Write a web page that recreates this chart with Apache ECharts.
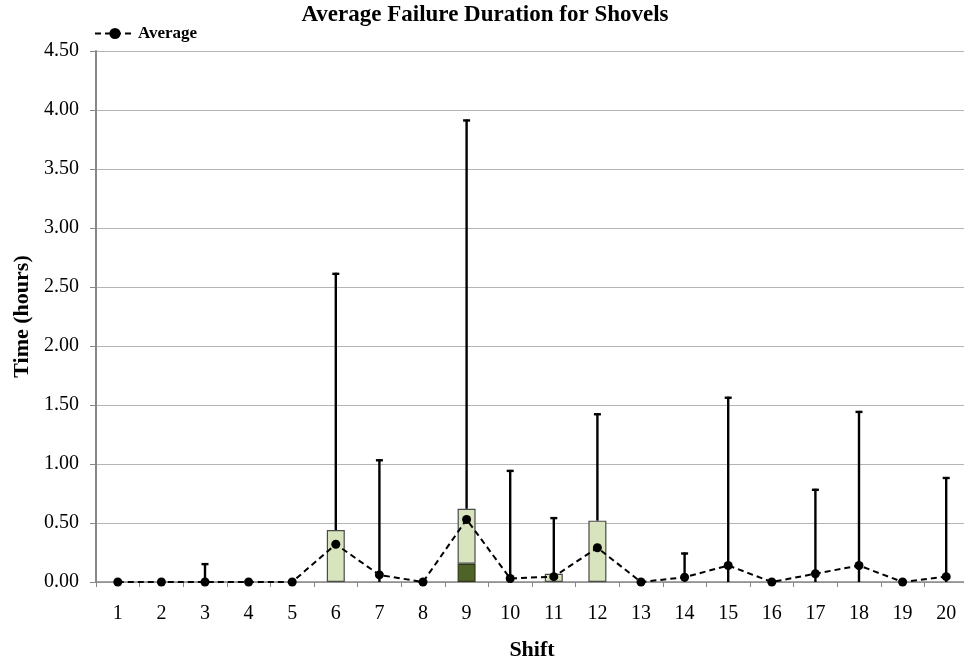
<!DOCTYPE html>
<html>
<head>
<meta charset="utf-8">
<title>Average Failure Duration for Shovels</title>
<script src="https://cdn.jsdelivr.net/npm/echarts@6/dist/echarts.min.js"></script>
<style>
  html, body { margin: 0; padding: 0; background: #ffffff; }
  #chart { width: 964px; height: 661px; }
</style>
</head>
<body>
<div id="chart"></div>
<script>
// Shift numbers along the horizontal axis
const shifts = ['1','2','3','4','5','6','7','8','9','10','11','12','13','14','15','16','17','18','19','20'];

// Failure duration statistics per shift (hours)
const medianValues = [0, 0, 0, 0, 0, 0, 0, 0, 0.155, 0, 0, 0, 0, 0, 0, 0, 0, 0, 0, 0];
const upperQuartile = [0, 0, 0, 0, 0, 0.44, 0, 0, 0.62, 0, 0.07, 0.52, 0, 0, 0, 0, 0, 0, 0, 0];
const maxValues = [0, 0, 0.16, 0, 0, 2.62, 1.04, 0, 3.92, 0.95, 0.55, 1.43, 0, 0.25, 1.57, 0, 0.79, 1.45, 0, 0.89];
const averageValues = [0, 0, 0, 0, 0, 0.32, 0.06, 0, 0.53, 0.03, 0.045, 0.29, 0, 0.04, 0.14, 0, 0.07, 0.14, 0, 0.045];

// Y axis tick settings
const yMin = 0, yMax = 4.5, yStep = 0.5;

const serif = '"Liberation Serif", "Times New Roman", serif';

// Empty boxes are left out so no flat outline is drawn on the axis
const orEmpty = v => (v > 0 ? v : '-');
const lowerBox = medianValues.map(orEmpty);
const upperBox = upperQuartile.map((q, i) => orEmpty(+(q - medianValues[i]).toFixed(4)));
// Whisker rows: [category index, box top, maximum]
const whiskerRows = maxValues.map((m, i) => [i, upperQuartile[i], m]);

const chart = echarts.init(document.getElementById('chart'), null, { renderer: 'canvas' });

chart.setOption({
  backgroundColor: '#ffffff',
  animation: false,
  title: {
    text: 'Average Failure Duration for Shovels',
    left: 485,
    textAlign: 'center',
    top: 0,
    padding: [4, 0, 0, 0],
    textStyle: { fontFamily: serif, fontWeight: 'bold', fontSize: 23, color: '#000000' }
  },
  legend: {
    data: ['Average'],
    left: 89,
    top: 20,
    itemWidth: 40,
    itemHeight: 14,
    itemGap: 4,
    textStyle: { fontFamily: serif, fontWeight: 'bold', fontSize: 17, color: '#000000', padding: [0, 0, 0, -2] }
  },
  grid: {
    left: 96, top: 51, width: 872, height: 531,
    containLabel: false,
    outerBoundsMode: 'none'
  },
  xAxis: {
    type: 'category',
    data: shifts,
    boundaryGap: true,
    name: 'Shift',
    nameLocation: 'middle',
    nameGap: 57,
    nameTextStyle: { fontFamily: serif, fontWeight: 'bold', fontSize: 22, color: '#000000' },
    axisLine: { show: true, onZero: false, lineStyle: { color: '#888888', width: 1.5 } },
    axisTick: { show: true, length: 5, interval: 0, lineStyle: { color: '#888888', width: 1 } },
    axisLabel: { fontFamily: serif, fontSize: 20, color: '#000000', margin: 22, interval: 0 },
    splitLine: { show: false }
  },
  yAxis: {
    type: 'value',
    min: yMin,
    max: yMax,
    interval: yStep,
    name: 'Time (hours)',
    nameLocation: 'middle',
    nameGap: 62,
    nameTextStyle: { fontFamily: serif, fontWeight: 'bold', fontSize: 22, color: '#000000' },
    axisLine: { show: true, lineStyle: { color: '#888888', width: 2 } },
    axisTick: { show: true, length: 6, lineStyle: { color: '#888888', width: 1 } },
    axisLabel: {
      fontFamily: serif, fontSize: 20, color: '#000000', margin: 17,
      formatter: v => v.toFixed(2)
    },
    splitLine: { show: true, lineStyle: { color: '#b4b4b4', width: 1.2 } }
  },
  series: [
    {
      name: 'Median',
      type: 'bar',
      stack: 'box',
      data: lowerBox,
      barWidth: 18,
      itemStyle: { color: '#4f6228', borderColor: '#2f3a17', borderWidth: 1.2 },
      z: 2
    },
    {
      name: 'Upper quartile',
      type: 'bar',
      stack: 'box',
      data: upperBox,
      barWidth: 18,
      itemStyle: { color: '#d7e4bd', borderColor: '#4a4a4a', borderWidth: 1.2 },
      z: 2
    },
    {
      name: 'Maximum',
      type: 'custom',
      data: whiskerRows,
      encode: { x: 0, y: [1, 2] },
      z: 3,
      renderItem: function (params, api) {
        const idx = api.value(0);
        const low = api.value(1);
        const high = api.value(2);
        if (!(high > low)) return null;
        const p0 = api.coord([idx, low]);
        const p1 = api.coord([idx, high]);
        const cap = 3.5;
        const style = { stroke: '#000000', lineWidth: 2.4, fill: null };
        return {
          type: 'group',
          children: [
            { type: 'line', shape: { x1: p0[0], y1: p0[1], x2: p1[0], y2: p1[1] }, style: style },
            { type: 'line', shape: { x1: p1[0] - cap, y1: p1[1] + 1, x2: p1[0] + cap, y2: p1[1] + 1 }, style: style }
          ]
        };
      }
    },
    {
      name: 'Average',
      type: 'line',
      data: averageValues,
      symbol: 'circle',
      symbolSize: 9,
      lineStyle: { color: '#000000', width: 2, type: [6, 4] },
      itemStyle: { color: '#000000' },
      z: 5
    }
  ]
});
</script>
</body>
</html>
